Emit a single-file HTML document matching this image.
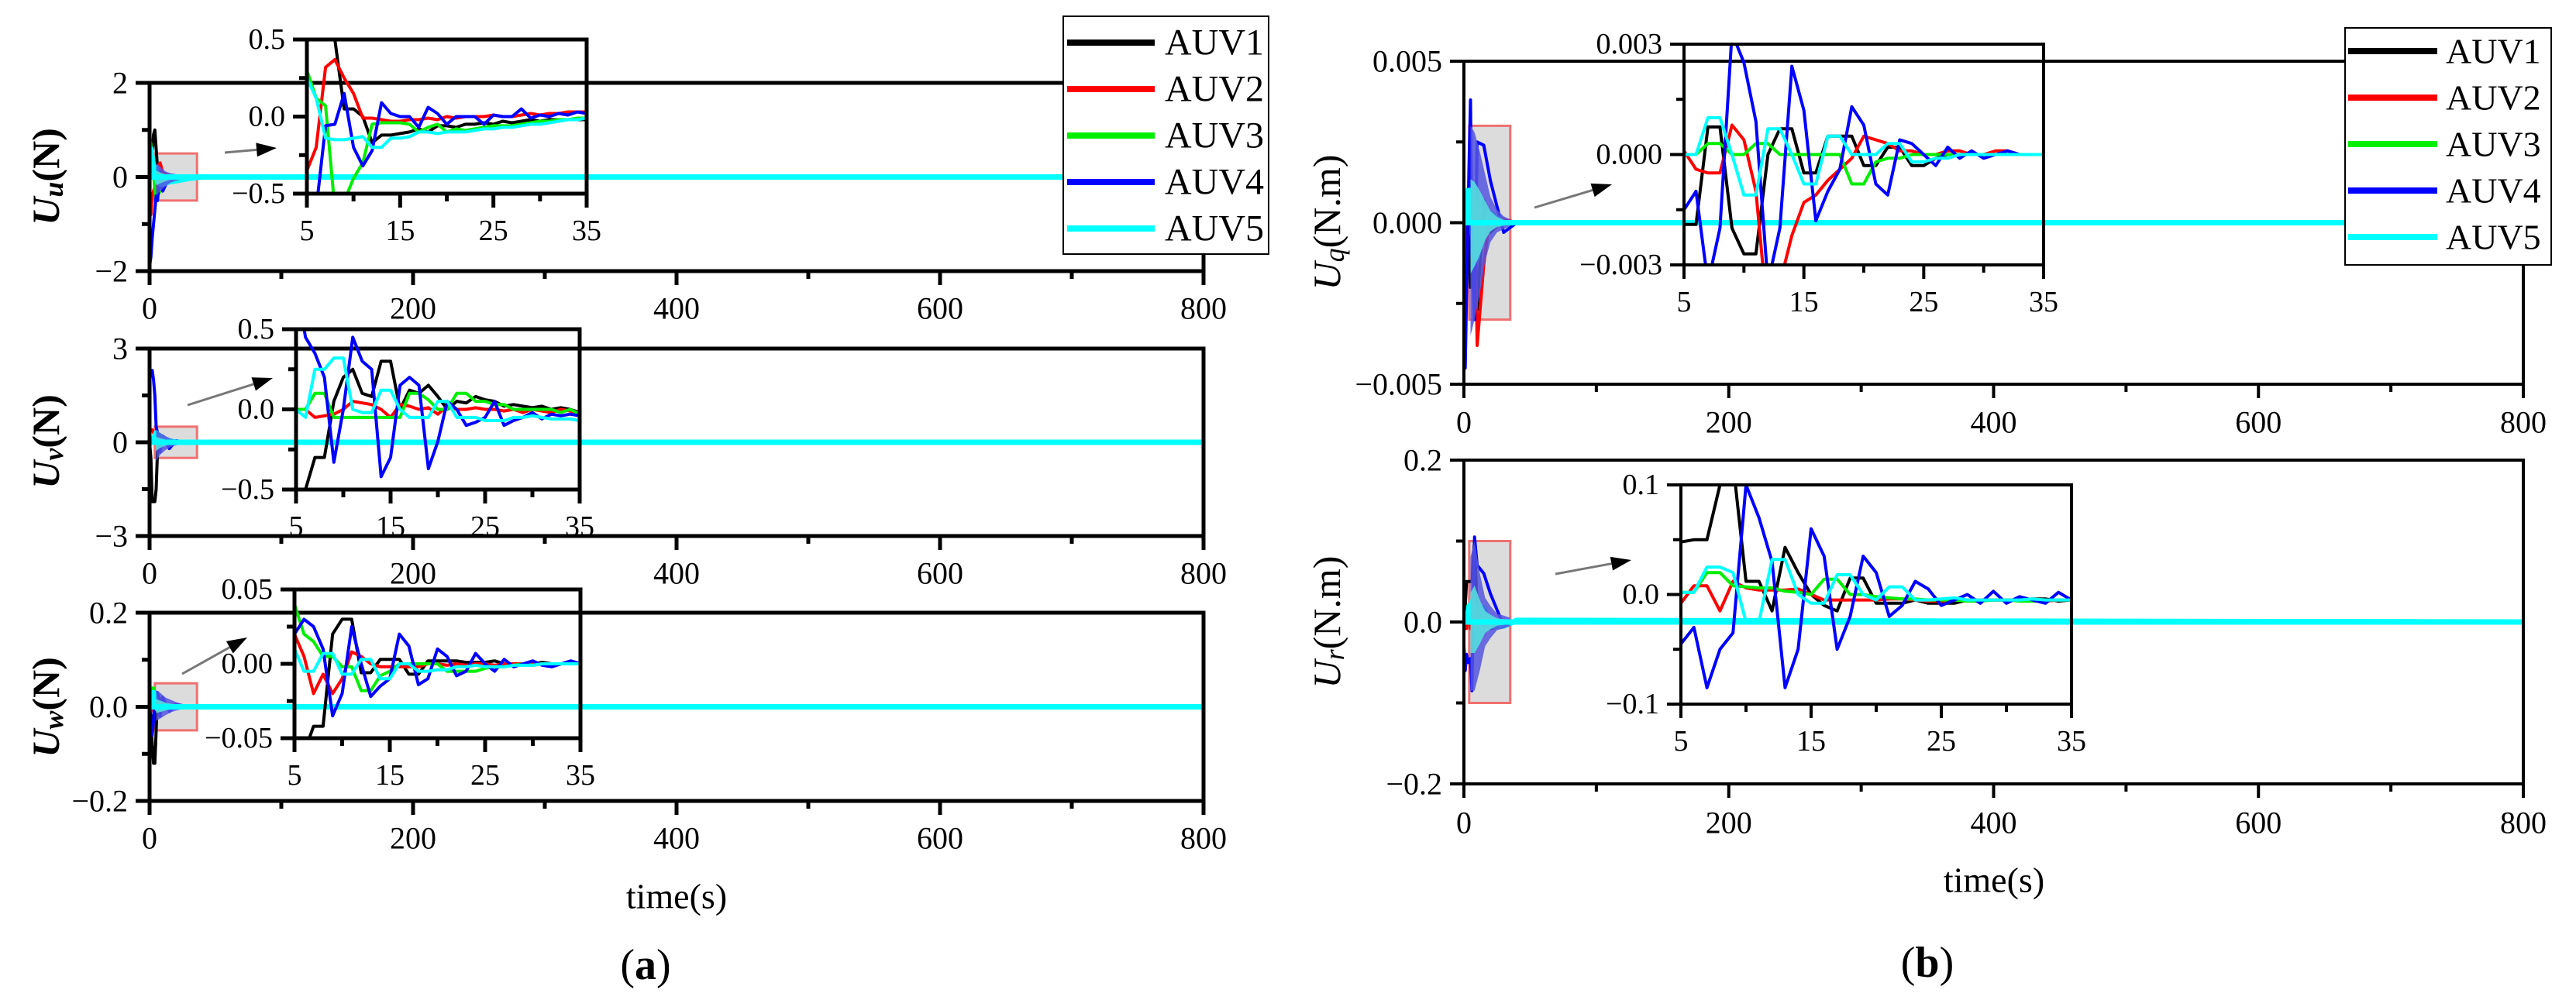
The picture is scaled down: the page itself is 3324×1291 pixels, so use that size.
<!DOCTYPE html>
<html><head><meta charset="utf-8">
<style>
html,body{margin:0;padding:0;background:#fff;}
svg{display:block;}
text{font-family:"Liberation Serif","DejaVu Serif",serif;fill:#000;}
</style></head>
<body>
<svg id="fig" xmlns="http://www.w3.org/2000/svg" width="3324" height="1291" viewBox="0 0 3324 1291"></svg>
<script>
// ---------- DATA ----------
const seriesNames = ["AUV1","AUV2","AUV3","AUV4","AUV5"];
const seriesColors = ["#000000","#ff0000","#00ee00","#0000ff","#00ffff"];
const mainT = [0,1,2,3,4,5,6,8,10,15,20,30,40,800];
const envT = [5,8,12,16,20,25,30,35];
const insetT = [5,6,7,8,9,10,11,12,13,14,15,16,17,18,19,20,21,22,23,24,25,26,27,28,29,30,31,32,33,34,35];
const mainXTicks = [0,200,400,600,800];
const insetXTicks = [5,15,25,35];

// Uu
const uuMain1=[0,0.2,0.5,0.9,1.0,0.6,0.2,0.05,0,0,0,0,0,0];
const uuMain2=[-0.7,-0.8,-0.4,-0.3,-0.2,-0.3,0.2,0.3,0.1,0,0,0,0,0];
const uuMain3=[0.8,0.7,0.3,0.1,-0.3,-0.5,-0.4,-0.3,-0.1,-0.05,0,0,0,0];
const uuMain4=[-1.9,-1.7,-1.3,-1.0,-0.7,-0.4,-0.5,0.1,-0.3,0.0,0,0,0,0];
const uuMain5=[0.6,0.6,0.4,0.2,0.0,0.2,-0.1,-0.15,-0.15,-0.1,-0.08,-0.03,0,0];
const uuEnvHi=[0.3,0.22,0.12,0.08,0.06,0.04,0.03,0.02];
const uuEnvLo=[-0.4,-0.3,-0.2,-0.12,-0.08,-0.05,-0.03,-0.02];
const uuIn1=[0.9,0.8,0.7,0.5,0.05,0.05,0.0,-0.17,-0.12,-0.12,-0.11,-0.1,-0.08,-0.1,-0.06,-0.06,-0.07,-0.05,-0.05,-0.04,-0.05,-0.03,-0.04,-0.03,-0.02,-0.03,-0.02,-0.02,-0.02,-0.02,-0.02];
const uuIn2=[-0.35,-0.2,0.32,0.37,0.25,0.15,-0.01,-0.01,-0.02,-0.03,-0.03,-0.02,-0.02,-0.01,-0.02,0.0,-0.01,0.0,0.0,0.0,0.01,0.0,0.0,0.01,0.02,0.01,0.02,0.02,0.03,0.03,0.03];
const uuIn3=[0.3,0.12,0.07,-0.6,-0.55,-0.4,-0.3,-0.05,-0.04,-0.04,-0.04,-0.05,-0.1,-0.07,-0.05,-0.1,-0.08,-0.09,-0.08,-0.07,-0.06,-0.06,-0.06,-0.05,-0.04,-0.03,-0.03,-0.02,-0.02,-0.01,-0.01];
const uuIn4=[-0.8,-0.6,-0.06,-0.05,0.15,-0.2,-0.32,-0.22,0.09,0.02,0.0,0.0,-0.07,0.06,0.02,-0.05,0.0,0.0,0.0,-0.05,0.01,0.0,0.0,0.05,-0.01,0.01,0.0,0.02,0.01,0.03,0.02];
const uuIn5=[0.25,0.12,-0.14,-0.15,-0.15,-0.14,-0.13,-0.2,-0.2,-0.14,-0.14,-0.13,-0.1,-0.1,-0.11,-0.1,-0.1,-0.1,-0.09,-0.08,-0.08,-0.07,-0.07,-0.06,-0.05,-0.05,-0.04,-0.03,-0.02,-0.02,-0.01];
const uuYTicks=[-2,0,2]; const uuYTickLabels=["\u22122","0","2"];
const uuInYTicks=[-0.5,0,0.5]; const uuInYTickLabels=["\u22120.5","0.0","0.5"];

// Uv
const uvMain1=[0,-0.5,-1.9,-1.9,-1.9,-1.5,-0.3,0.1,0.05,0,0,0,0,0];
const uvMain2=[0.4,0.4,0.4,0.3,0.2,0.1,0.05,0,0,0,0,0,0,0];
const uvMain3=[0,0,0,0.05,0.1,0.1,0,0,0,0,0,0,0,0];
const uvMain4=[2.3,2.3,2.3,2.0,1.5,0.5,0.3,-0.3,0.2,-0.2,0.05,0,0,0];
const uvMain5=[0,0,0,0.1,0.2,0.3,0.25,0.2,0.1,0.05,0,0,0,0];
const uvEnvHi=[0.4,0.3,0.2,0.12,0.08,0.05,0.03,0.02];
const uvEnvLo=[-0.6,-0.4,-0.25,-0.15,-0.1,-0.06,-0.04,-0.02];
const uvIn1=[-0.8,-0.5,-0.3,-0.3,0.05,0.2,0.25,0.1,0.08,0.3,0.3,0.0,0.12,0.1,0.15,0.08,0.0,0.05,0.04,0.08,0.06,0.05,0.02,0.03,0.02,0.01,0.02,0.0,0.01,0.0,-0.02];
const uvIn2=[0.0,0.0,-0.05,-0.04,-0.03,0.0,0.05,0.04,0.03,0.0,-0.05,0.03,0.02,0.0,0.01,-0.03,0.02,0.0,0.0,0.01,0.0,0.0,-0.01,0.0,-0.02,0.0,-0.01,-0.02,0.0,-0.01,-0.02];
const uvIn3=[0.0,0.0,0.1,0.1,-0.05,-0.05,-0.05,-0.05,-0.05,-0.05,-0.05,-0.05,0.1,0.1,0.06,0.0,0.0,0.1,0.1,0.05,0.05,0.03,0.03,0.0,0.0,0.0,0.0,0.0,-0.02,0.0,-0.03];
const uvIn4=[0.8,0.45,0.35,0.2,-0.33,0.0,0.45,0.3,0.25,-0.42,-0.3,0.15,0.2,0.15,-0.37,-0.2,0.05,0.0,-0.1,-0.08,-0.05,0.05,-0.1,-0.07,-0.05,-0.02,-0.06,-0.03,-0.04,-0.03,-0.04];
const uvIn5=[0.0,-0.05,0.25,0.25,0.32,0.32,0.0,-0.02,-0.02,0.12,0.12,0.0,-0.05,-0.05,-0.05,0.05,0.05,-0.05,-0.05,-0.05,-0.07,-0.07,-0.07,-0.05,-0.05,-0.04,-0.05,-0.06,-0.06,-0.06,-0.07];
const uvYTicks=[-3,0,3]; const uvYTickLabels=["\u22123","0","3"];
const uvInYTicks=[-0.5,0,0.5]; const uvInYTickLabels=["\u22120.5","0.0","0.5"];

// Uw
const uwMain1=[0,-0.02,-0.08,-0.12,-0.12,-0.05,0.03,0.01,0,0,0,0,0,0];
const uwMain2=[0,-0.01,0.01,0.02,0.01,0.0,-0.01,0,0,0,0,0,0,0];
const uwMain3=[0,0.01,0.04,0.04,0.03,0.02,0.01,0,0,0,0,0,0,0];
const uwMain4=[-0.02,-0.06,-0.06,-0.03,0.02,0.03,0.03,-0.02,0.02,-0.01,0.005,0,0,0];
const uwMain5=[0,0,0.03,0.03,0.02,0.01,-0.005,0.005,-0.005,0,0,0,0,0];
const uwEnvHi=[0.035,0.03,0.02,0.015,0.01,0.006,0.004,0.002];
const uwEnvLo=[-0.03,-0.025,-0.018,-0.012,-0.008,-0.005,-0.003,-0.002];
const uwIn1=[-0.08,-0.06,-0.042,-0.042,0.02,0.03,0.03,-0.006,-0.006,0.003,0.003,0.003,-0.007,-0.007,0.002,0.002,0.002,0.002,0.001,0.001,0.001,0.002,0.0,0.0,0.0,0.0,0.001,0.0,0.0,0.0,0.0];
const uwIn2=[0.02,0.005,-0.02,-0.007,-0.02,-0.01,0.008,0.005,0.0,-0.002,-0.002,-0.002,-0.002,-0.002,0.0,0.0,-0.001,0.0,-0.001,0.0,0.0,-0.001,0.0,0.0,0.0,0.0,0.0,0.0,0.0,0.0,0.0];
const uwIn3=[0.04,0.02,0.015,0.005,0.005,-0.002,-0.002,-0.018,-0.018,-0.008,-0.005,0.0,0.0,0.0,0.0,0.0,-0.005,-0.005,-0.005,-0.005,-0.003,-0.002,-0.002,-0.001,0.0,-0.001,0.0,0.0,0.0,0.0,0.0];
const uwIn4=[0.02,0.03,0.025,0.01,-0.035,-0.02,0.025,0.0,-0.022,-0.015,-0.01,0.02,0.012,-0.014,-0.01,0.01,0.005,-0.008,-0.005,0.007,0.0,-0.005,0.003,-0.002,0.0,0.002,-0.001,-0.002,0.0,0.002,0.0];
const uwIn5=[0.01,-0.005,-0.005,0.007,0.007,-0.007,-0.007,0.003,0.003,-0.01,-0.01,0.0,0.0,-0.005,-0.005,-0.004,-0.004,-0.002,-0.002,-0.001,-0.002,-0.002,-0.002,-0.001,-0.001,-0.001,0.0,0.0,0.0,0.0,0.0];
const uwYTicks=[-0.2,0,0.2]; const uwYTickLabels=["\u22120.2","0.0","0.2"];
const uwInYTicks=[-0.05,0,0.05]; const uwInYTickLabels=["\u22120.05","0.00","0.05"];

// Uq
const uqMain1=[-0.0018,-0.0018,0.0,0.001,-0.001,-0.002,0.0008,0.0006,-0.0027,0.0007,-0.0003,0.0001,0,0];
const uqMain2=[-0.0018,-0.001,0.0005,-0.0005,0.0,0.0001,-0.0005,0.0008,-0.0038,-0.0013,0.0003,0.0001,0,0];
const uqMain3=[0,0.0002,0.0,0.0003,0,0,0.0003,0.0003,0.0,0,0,0,0,0];
const uqMain4=[-0.003,-0.0045,-0.0022,0.0,0.002,0.0038,-0.001,-0.003,0.0025,0.0024,0.0013,-0.0003,0,0];
const uqMain5=[0.0008,0.001,0.0,0.0,0.001,0,0.001,0.0007,-0.0011,0.0,0.0003,0.0,0,0];
const uqEnvHi=[0.003,0.0028,0.0022,0.0015,0.0008,0.0004,0.0002,0.0001];
const uqEnvLo=[-0.0035,-0.003,-0.0022,-0.0012,-0.0006,-0.0003,-0.0002,-0.0001];
const uqIn1=[-0.0019,-0.0019,0.00075,0.00075,-0.002,-0.0027,-0.0027,0.0,0.0007,0.0007,-0.0005,-0.0005,0.0005,0.0005,0.0005,-0.0003,-0.0003,0.0002,0.0002,-0.0003,-0.0003,-0.0001,0.0,0.0,0.0,0.0,0.0,0.0,0.0,0.0,0.0];
const uqIn2=[0.0001,-0.0004,-0.0005,-0.0005,0.0008,0.0004,-0.001,-0.0045,-0.0035,-0.0022,-0.0013,-0.0011,-0.0007,-0.0004,-0.0001,0.0005,0.0004,0.0003,0.0001,0.0001,0.0,0.0,0.0001,0.0001,0.0,0.0,0.0001,0.0001,0.0,0.0,0.0];
const uqIn3=[0.0,0.0,0.0003,0.0003,0.0,0.0,0.0003,0.0003,0.0,0.0,0.0,0.0,0.0,0.0,-0.0008,-0.0008,-0.0002,-0.0001,-0.0001,0.0,0.0,0.0,0.0,0.0,0.0,0.0,0.0,0.0,0.0,0.0,0.0];
const uqIn4=[-0.0015,-0.001,-0.0035,-0.002,0.0033,0.0025,0.0009,-0.0035,-0.002,0.0024,0.0012,-0.0018,-0.001,-0.0004,0.0013,0.0008,-0.0008,-0.0011,0.0004,0.0003,0.0,-0.0003,0.0002,-0.0001,0.0001,-0.0001,0.0,0.0001,0.0,0.0,0.0];
const uqIn5=[0.0,0.0,0.001,0.001,0.0,-0.0011,-0.0011,0.0007,0.0007,0.0,-0.0008,-0.0008,0.0005,0.0005,0.0,0.0,0.0,0.0003,0.0003,-0.0002,-0.0002,-0.0001,-0.0001,0.0,0.0,0.0,0.0,0.0,0.0,0.0,0.0];
const uqYTicks=[-0.005,0,0.005]; const uqYTickLabels=["\u22120.005","0.000","0.005"];
const uqInYTicks=[-0.003,0,0.003]; const uqInYTickLabels=["\u22120.003","0.000","0.003"];

// Ur
const urMain1=[0,0.02,0.05,0.05,0.05,0.05,0.05,0.1,0.012,0.0,-0.008,-0.005,0,0];
const urMain2=[0.01,0.01,-0.008,0.008,0.008,-0.008,0.008,0.012,0.004,-0.005,-0.006,-0.005,0,0];
const urMain3=[0,0.002,0.002,0.02,0.02,0.008,0.006,0.003,0.014,0.0,-0.004,-0.005,0,0];
const urMain4=[-0.03,-0.06,-0.04,-0.05,-0.05,-0.045,-0.085,0.105,0.07,0.06,0.035,-0.005,0.003,0];
const urMain5=[0,0.005,0.01,0.01,0.02,0.002,0.025,0.02,-0.025,0.018,-0.005,-0.005,0.002,0];
const urEnvHi=[0.08,0.1,0.06,0.03,0.02,0.01,0.008,0.005];
const urEnvLo=[-0.085,-0.085,-0.06,-0.03,-0.02,-0.01,-0.008,-0.005];
const urIn1=[0.048,0.05,0.05,0.1,0.12,0.012,0.012,-0.015,0.043,0.02,0.0,-0.01,-0.015,0.015,0.015,-0.008,-0.008,-0.008,-0.005,-0.008,-0.008,-0.008,-0.005,-0.005,-0.005,-0.005,-0.005,-0.004,-0.004,-0.006,-0.005];
const urIn2=[-0.008,0.008,0.008,-0.015,0.012,0.006,0.004,0.004,0.004,0.005,0.0,-0.005,-0.005,-0.005,-0.005,-0.005,-0.004,-0.004,-0.005,-0.006,-0.006,-0.005,-0.005,-0.005,-0.005,-0.005,-0.005,-0.006,-0.006,-0.005,-0.005];
const urIn3=[0.002,0.002,0.02,0.02,0.008,0.007,0.006,0.006,0.003,0.002,0.0,0.014,0.014,0.0,0.0,-0.002,-0.003,-0.004,-0.004,-0.005,-0.005,-0.005,-0.006,-0.006,-0.005,-0.005,-0.006,-0.006,-0.005,-0.005,-0.005];
const urIn4=[-0.045,-0.03,-0.085,-0.05,-0.035,0.1,0.07,0.03,-0.085,-0.05,0.06,0.035,-0.05,-0.02,0.035,0.02,-0.02,-0.01,0.012,0.005,-0.01,-0.005,0.0,-0.008,0.003,-0.008,-0.002,-0.005,-0.008,0.002,-0.005];
const urIn5=[0.002,0.002,0.025,0.025,0.02,-0.025,-0.025,0.032,0.032,0.0,-0.008,-0.008,0.018,0.018,0.0,-0.005,0.007,0.007,-0.005,-0.005,-0.004,-0.003,-0.005,-0.005,-0.005,-0.005,-0.005,-0.004,-0.005,-0.005,-0.005];
const urYTicks=[-0.2,0,0.2]; const urYTickLabels=["\u22120.2","0.0","0.2"];
const urInYTicks=[-0.1,0,0.1]; const urInYTickLabels=["\u22120.1","0.0","0.1"];

// ---------- DRAWING ----------
const NS="http://www.w3.org/2000/svg";
const svg=document.getElementById('fig');
function mk(tag,attrs,parent){const e=document.createElementNS(NS,tag);for(const k in attrs)e.setAttribute(k,attrs[k]);(parent||svg).appendChild(e);return e;}
function txt(s,x,y,size,anchor,parent,extra){const e=mk('text',Object.assign({x:x,y:y,'font-size':size,'text-anchor':anchor||'middle','dominant-baseline':'central'},extra||{}),parent);e.textContent=s;return e;}
let clipId=0;
function lineScale(d0,d1,p0,p1){return v=>p0+(v-d0)*(p1-p0)/(d1-d0);}
function pathD(xs,ys,sx,sy){return xs.map((t,i)=>(i?'L':'M')+sx(t).toFixed(1)+' '+sy(ys[i]).toFixed(1)).join(' ');}

function drawAxes(g,box,sx,sy,xTicks,xMinor,yTicks,yLabels,yMinor,fs,labelGap,sw){
  const f=mk('rect',{x:box.x0,y:box.y0,width:box.x1-box.x0,height:box.y1-box.y0,fill:'none',stroke:'#000','stroke-width':sw},g);
  
  
  xTicks.forEach(t=>{const x=sx(t);mk('line',{x1:x,y1:box.y1,x2:x,y2:box.y1+18,stroke:'#000','stroke-width':sw},g);
    const l=txt(String(t),x,box.y1+labelGap,fs,'middle',g);
    
    });
  xMinor.forEach(t=>{const x=sx(t);mk('line',{x1:x,y1:box.y1,x2:x,y2:box.y1+10,stroke:'#000','stroke-width':sw},g);});
  yTicks.forEach((v,i)=>{const y=sy(v);mk('line',{x1:box.x0-18,y1:y,x2:box.x0,y2:y,stroke:'#000','stroke-width':sw},g);
    const l=txt(yLabels[i],box.x0-28,y,fs,'end',g);
    
    });
  yMinor.forEach(v=>{const y=sy(v);mk('line',{x1:box.x0-10,y1:y,x2:box.x0,y2:y,stroke:'#000','stroke-width':sw},g);});
}

function drawSubplot(cfg){
  const g=mk('g',{});
  
  
  const b=cfg.box;
  const sx=lineScale(0,800,b.x0,b.x1), sy=lineScale(cfg.yr[0],cfg.yr[1],b.y1,b.y0);
  const cid='c'+(clipId++);
  const cp=mk('clipPath',{id:cid},g); mk('rect',{x:b.x0,y:b.y0,width:b.x1-b.x0,height:b.y1-b.y0},cp);
  const dg=mk('g',{'clip-path':'url(#'+cid+')'},g);
  const zb=mk('rect',{x:sx(cfg.zoomT[0]),y:sy(cfg.zoomV[1]),width:sx(cfg.zoomT[1])-sx(cfg.zoomT[0]),height:sy(cfg.zoomV[0])-sy(cfg.zoomV[1]),fill:'#dcdcdc',stroke:'#f07070','stroke-width':3},g);
  
  
  g.appendChild(dg);
  cfg.main.forEach((ys,i)=>{
    const p=mk('path',{d:pathD(mainT,ys,sx,sy),fill:'none',stroke:seriesColors[i],'stroke-width':i==4?7:4,'stroke-linejoin':'round'},dg);
    
    
  });
  const up=envT.map((t,i)=>sx(t).toFixed(1)+','+sy(cfg.envHi[i]).toFixed(1));
  const lo=envT.map((t,i)=>sx(t).toFixed(1)+','+sy(cfg.envLo[i]).toFixed(1)).reverse();
  const env=mk('polygon',{points:up.concat(lo).join(' '),fill:'#5555e0','fill-opacity':0.85},dg);
  
  
  const up2=envT.map((t,i)=>sx(t).toFixed(1)+','+sy(cfg.envHi[i]*0.45).toFixed(1));
  const lo2=envT.map((t,i)=>sx(t).toFixed(1)+','+sy(cfg.envLo[i]*0.45).toFixed(1)).reverse();
  const env2=mk('polygon',{points:up2.concat(lo2).join(' '),fill:'#55dddd','fill-opacity':0.9},dg);
  
  
  mk('line',{x1:sx(0),y1:sy(0),x2:sx(800),y2:sy(0),stroke:'#00ffff','stroke-width':7},dg);
  drawAxes(g,b,sx,sy,mainXTicks,[100,300,500,700],cfg.yTicks,cfg.yLabels,[ (cfg.yTicks[0]+cfg.yTicks[1])/2,(cfg.yTicks[1]+cfg.yTicks[2])/2 ],40,cfg.xlabGap,cfg.sw);
  const a=cfg.arrow;
  const ag=mk('g',{},g);
  
  
  const ang=Math.atan2(a[3]-a[1],a[2]-a[0]);
  const hx=a[2]-26*Math.cos(ang), hy=a[3]-26*Math.sin(ang);
  mk('line',{x1:a[0],y1:a[1],x2:hx,y2:hy,stroke:'#777','stroke-width':3},ag);
  const px=-Math.sin(ang)*9, py=Math.cos(ang)*9;
  mk('polygon',{points:`${a[2]},${a[3]} ${hx+px},${hy+py} ${hx-px},${hy-py}`,fill:'#000'},ag);
  const ib=cfg.inBox;
  const ig=mk('g',{},g);
  
  
  const isx=lineScale(5,35,ib.x0,ib.x1), isy=lineScale(cfg.inYr[0],cfg.inYr[1],ib.y1,ib.y0);
  const cid2='c'+(clipId++);
  const cp2=mk('clipPath',{id:cid2},ig); mk('rect',{x:ib.x0,y:ib.y0,width:ib.x1-ib.x0,height:ib.y1-ib.y0},cp2);
  const idg=mk('g',{'clip-path':'url(#'+cid2+')'},ig);
  cfg.inset.forEach((ys,i)=>{
    const p=mk('path',{d:pathD(insetT,ys,isx,isy),fill:'none',stroke:seriesColors[i],'stroke-width':4,'stroke-linejoin':'round'},idg);
    
    
  });
  const iy=cfg.inYTicks;
  drawAxes(ig,ib,isx,isy,insetXTicks,[10,20,30],iy,cfg.inYLabels,[(iy[0]+iy[1])/2,(iy[1]+iy[2])/2],38,48,cfg.sw);
  const yl=mk('text',{x:cfg.ylab[0],y:cfg.ylab[1],'font-size':50,'text-anchor':'middle','dominant-baseline':'central',transform:`rotate(-90 ${cfg.ylab[0]} ${cfg.ylab[1]})`,'font-weight':cfg.bold?'bold':'normal'},g);
  
  
  const t1=mk('tspan',{'font-style':'italic'},yl); t1.textContent='U';
  const t2=mk('tspan',{'font-style':'italic','font-size':36,dy:10},yl); t2.textContent=cfg.sub;
  const t3=mk('tspan',{dy:-10},yl); t3.textContent=cfg.unit;
}

function drawLegend(x0,y0,x1,y1,firstY,step,lx0,lx1,tx,fs){
  const g=mk('g',{});
  
  
  mk('rect',{x:x0,y:y0,width:x1-x0,height:y1-y0,fill:'#fff',stroke:'#000','stroke-width':2},g);
  seriesNames.forEach((n,i)=>{
    const e=mk('g',{},g);
    
    
    const y=firstY+i*step;
    mk('line',{x1:lx0,y1:y,x2:lx1,y2:y,stroke:seriesColors[i],'stroke-width':8},e);
    txt(n,tx,y,fs,'start',e);
  });
}

drawSubplot({name:'plot-uu',sw:5,box:{x0:193,y0:107,x1:1553,y1:350},yr:[-2,2],main:[uuMain1,uuMain2,uuMain3,uuMain4,uuMain5],envHi:uuEnvHi,envLo:uuEnvLo,
  yTicks:uuYTicks,yLabels:uuYTickLabels,xlabGap:48,zoomT:[4,36],zoomV:[-0.5,0.5],arrow:[290,197,357,191],
  inBox:{x0:396,y0:51,x1:757,y1:250},inYr:[-0.5,0.5],inset:[uuIn1,uuIn2,uuIn3,uuIn4,uuIn5],inYTicks:uuInYTicks,inYLabels:uuInYTickLabels,
  ylab:[59,228],sub:'u',unit:'(N)',bold:true});
drawSubplot({name:'plot-uv',sw:5,box:{x0:193,y0:450,x1:1553,y1:692},yr:[-3,3],main:[uvMain1,uvMain2,uvMain3,uvMain4,uvMain5],envHi:uvEnvHi,envLo:uvEnvLo,
  yTicks:uvYTicks,yLabels:uvYTickLabels,xlabGap:48,zoomT:[4,36],zoomV:[-0.5,0.5],arrow:[242,523,352,488],
  inBox:{x0:382,y0:425,x1:748,y1:632},inYr:[-0.5,0.5],inset:[uvIn1,uvIn2,uvIn3,uvIn4,uvIn5],inYTicks:uvInYTicks,inYLabels:uvInYTickLabels,
  ylab:[59,570],sub:'v',unit:'(N)',bold:true});
drawSubplot({name:'plot-uw',sw:5,box:{x0:193,y0:791,x1:1553,y1:1034},yr:[-0.2,0.2],main:[uwMain1,uwMain2,uwMain3,uwMain4,uwMain5],envHi:uwEnvHi,envLo:uwEnvLo,
  yTicks:uwYTicks,yLabels:uwYTickLabels,xlabGap:48,zoomT:[4,36],zoomV:[-0.05,0.05],arrow:[235,870,319,823],
  inBox:{x0:380,y0:761,x1:749,y1:953},inYr:[-0.05,0.05],inset:[uwIn1,uwIn2,uwIn3,uwIn4,uwIn5],inYTicks:uwInYTicks,inYLabels:uwInYTickLabels,
  ylab:[59,913],sub:'w',unit:'(N)',bold:true});
drawSubplot({name:'plot-uq',sw:4,box:{x0:1889,y0:79,x1:3256,y1:496},yr:[-0.005,0.005],main:[uqMain1,uqMain2,uqMain3,uqMain4,uqMain5],envHi:uqEnvHi,envLo:uqEnvLo,
  yTicks:uqYTicks,yLabels:uqYTickLabels,xlabGap:49,zoomT:[4,35],zoomV:[-0.003,0.003],arrow:[1980,268,2080,238],
  inBox:{x0:2173,y0:57,x1:2637,y1:342},inYr:[-0.003,0.003],inset:[uqIn1,uqIn2,uqIn3,uqIn4,uqIn5],inYTicks:uqInYTicks,inYLabels:uqInYTickLabels,
  ylab:[1712,287],sub:'q',unit:'(N.m)',bold:false});
drawSubplot({name:'plot-ur',sw:4,box:{x0:1889,y0:594,x1:3256,y1:1012},yr:[-0.2,0.2],main:[urMain1,urMain2,urMain3,urMain4,urMain5],envHi:urEnvHi,envLo:urEnvLo,
  yTicks:urYTicks,yLabels:urYTickLabels,xlabGap:50,zoomT:[4,35],zoomV:[-0.1,0.1],arrow:[2007,741,2105,723],
  inBox:{x0:2169,y0:626,x1:2673,y1:909},inYr:[-0.1,0.1],inset:[urIn1,urIn2,urIn3,urIn4,urIn5],inYTicks:urInYTicks,inYLabels:urInYTickLabels,
  ylab:[1712,803],sub:'r',unit:'(N.m)',bold:false});

drawLegend(1372,21,1637,328,55,60,1377,1490,1503,48);
drawLegend(3026,36,3292,342,66,60,3030,3145,3156,46);

const xa=txt('time(s)',873,1157,46,'middle');  
const xb=txt('time(s)',2573,1136,46,'middle');  
const pa=mk('text',{x:833,y:1246,'font-size':56,'text-anchor':'middle','dominant-baseline':'central'});


pa.innerHTML='(<tspan font-weight="bold">a</tspan>)';
const pb=mk('text',{x:2487,y:1243,'font-size':56,'text-anchor':'middle','dominant-baseline':'central'});


pb.innerHTML='(<tspan font-weight="bold">b</tspan>)';
</script>
</body></html>
